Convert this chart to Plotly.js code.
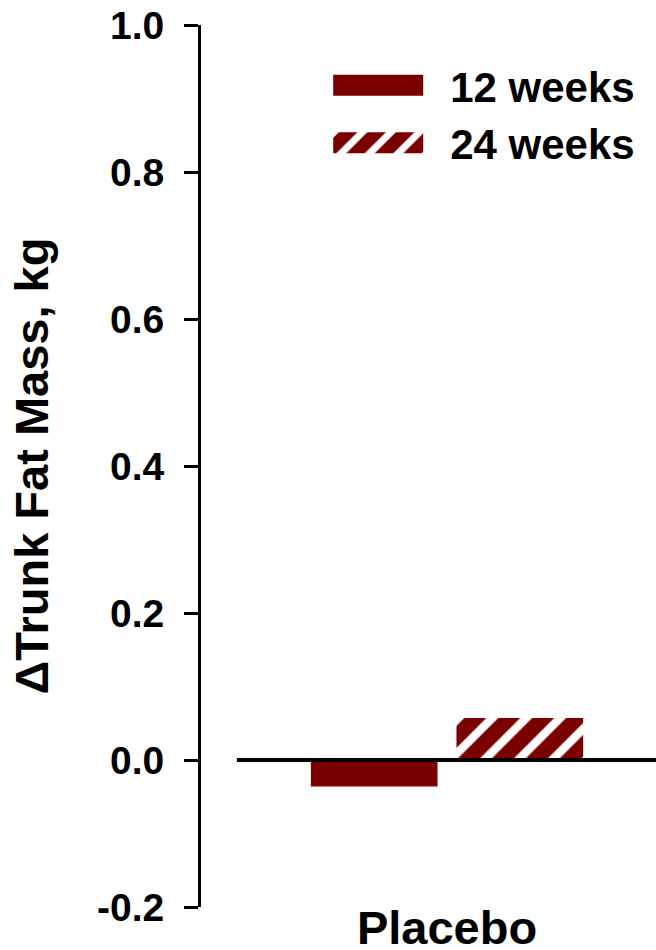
<!DOCTYPE html>
<html>
<head>
<meta charset="utf-8">
<script src="https://cdn.plot.ly/plotly-3.0.1.min.js"></script>
<style>
  html, body { margin: 0; padding: 0; background: #fff; }
  #chart { width: 656px; height: 950px; }
</style>
</head>
<body>
<div id="chart"></div>
<script>
// ---- data ----
var categories = ["Placebo"];
var seriesNames = ["12 weeks", "24 weeks"];
var values12 = [-0.036];
var values24 = [0.057];
var yTickVals = [-0.2, 0.0, 0.2, 0.4, 0.6, 0.8, 1.0];
var yTickText = ["-0.2", "0.0", "0.2", "0.4", "0.6", "0.8", "1.0"];
var yTitle = "\u0394Trunk Fat Mass, kg";

// ---- style ----
var RED = "#7a0000";
var FONT = "Liberation Sans, Arial, Helvetica, sans-serif";

var data = [
  {
    type: "bar",
    name: seriesNames[0],
    x: categories,
    y: values12,
    marker: { color: RED, line: { width: 0 } },
    hoverinfo: "skip"
  },
  {
    type: "bar",
    name: seriesNames[1],
    x: categories,
    y: values24,
    marker: {
      color: RED,
      line: { width: 0 },
      pattern: { shape: "/", fillmode: "overlay", fgcolor: "#ffffff", fgopacity: 1, bgcolor: RED, size: 24, solidity: 0.35 }
    },
    hoverinfo: "skip"
  }
];

var layout = {
  width: 656,
  height: 950,
  margin: { l: 201, r: 0, t: 25, b: 43, pad: 0, autoexpand: false },
  paper_bgcolor: "#ffffff",
  plot_bgcolor: "rgba(0,0,0,0)",
  font: { family: FONT, color: "#000000", weight: 700 },
  barmode: "group",
  bargap: 0.04,
  bargroupgap: 0.13,
  showlegend: true,
  legend: {
    x: 0.24, y: 0.97, xanchor: "left", yanchor: "top",
    font: { family: FONT, size: 42, color: "#000", weight: 700 },
    bgcolor: "rgba(0,0,0,0)",
    borderwidth: 0,
    traceorder: "normal",
    itemwidth: 130
  },
  xaxis: {
    type: "category",
    range: [-0.811, 0.689],
    showline: false,
    showgrid: false,
    zeroline: false,
    ticks: "",
    ticklabelstandoff: -11,
    tickfont: { family: FONT, size: 47, color: "#000", weight: 700 },
    fixedrange: true
  },
  yaxis: {
    range: [-0.2, 1.0],
    tickmode: "array",
    tickvals: yTickVals,
    ticktext: yTickText,
    showline: true,
    linecolor: "#000",
    linewidth: 3,
    ticks: "outside",
    ticklen: 14,
    tickwidth: 3,
    tickcolor: "#000",
    ticklabelstandoff: 12,
    showgrid: false,
    zeroline: false,
    tickfont: { family: FONT, size: 39, color: "#000", weight: 700 },
    title: { text: yTitle, font: { family: FONT, size: 47, color: "#000", weight: 700 }, standoff: 34 },
    fixedrange: true
  },
  shapes: [
    {
      type: "line", xref: "paper", yref: "y",
      x0: 0.079, x1: 1, y0: 0, y1: 0,
      line: { color: "#000", width: 4 },
      layer: "above"
    }
  ]
};

var gd = document.getElementById("chart");
function legendPatternFromBar() {
  var barTraces = gd.querySelectorAll("g.barlayer g.trace");
  if (barTraces.length < 2) return null;
  var bp = barTraces[1].querySelector("path");
  if (!bp) return null;
  var f = bp.style.fill || bp.getAttribute("fill") || "";
  var m = f.match(/#([^"')\s]+)/);
  if (!m) return null;
  var newId = m[1] + "-leg";
  if (document.getElementById(newId)) return newId;
  var pat = document.getElementById(m[1]);
  if (!pat) return null;
  var c = pat.cloneNode(true);
  c.setAttribute("id", newId);
  c.setAttribute("patternTransform", "scale(0.84)");
  pat.parentNode.appendChild(c);
  return newId;
}
function widenSwatches() {
  var SW_W = 90, SW_H = 21, SW_GAP = 27;
  try {
    gd.querySelectorAll("g.legend [clip-path]").forEach(function (el) { el.removeAttribute("clip-path"); });
    var legPat = legendPatternFromBar();
    var items = gd.querySelectorAll("g.legend g.traces");
    items.forEach(function (tr) {
      var txt = tr.querySelector("text.legendtext");
      if (!txt) return;
      var tl = txt.getBoundingClientRect().left;
      var paths = tr.querySelectorAll("g.legendpoints path");
      paths.forEach(function (p) {
        var bb = p.getBBox();
        var r = p.getBoundingClientRect();
        var off = r.left - bb.x;
        var left = tl - SW_GAP - SW_W - off;
        p.setAttribute("d", "M" + left + "," + (-SW_H / 2) + "h" + SW_W + "v" + SW_H + "h" + (-SW_W) + "Z");
        var pf = p.style.fill || "";
        if (legPat && pf.indexOf("url") >= 0) {
          p.style.fill = "url('#" + legPat + "')";
        }
      });
    });
  } catch (e) {}
}
Plotly.newPlot(gd, data, layout, { staticPlot: true, displayModeBar: false }).then(function () {
  widenSwatches();
  setTimeout(widenSwatches, 50);
});
widenSwatches();
</script>
</body>
</html>
